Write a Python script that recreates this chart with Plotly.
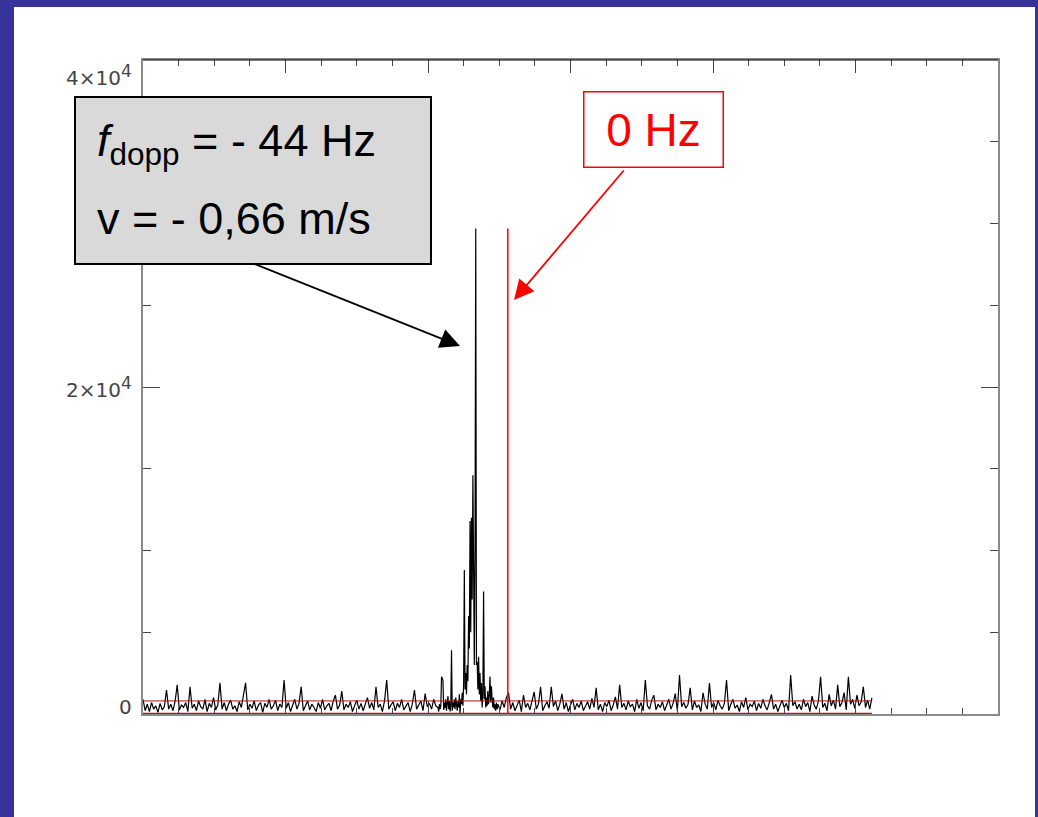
import plotly.graph_objects as go

# Doppler spectrum: FFT bin (Hz) vs. power, zero frequency at bin 512
BIN_STEP = 3
noise_left = [
    900, 200, 600, 150, 700, 300, 500, 100, 650, 250, 450, 1470, 300, 600, 200, 750, 1780, 250, 550, 400,
    700, 150, 1670, 350, 600, 200, 800, 450, 300, 900, 150, 650, 400, 1000, 250, 550, 1900, 300, 700, 200,
    600, 850, 300, 500, 150, 750, 400, 1100, 1900, 250, 600, 350, 800, 200, 550, 700, 100, 650, 400, 900,
    300, 500, 850, 200, 600, 400, 2080, 350, 700, 150, 550, 900, 300, 650, 1670, 200, 500, 800, 250, 600,
    400, 150, 700, 350, 900, 250, 500, 650, 200, 800, 1150, 300, 550, 1400, 250, 600, 400, 750, 150, 500,
    850, 300, 650, 200, 550, 1000, 350, 700, 250, 1670, 400, 600, 150, 800, 2080, 300, 550, 750, 200, 650,
    400, 900, 250, 500, 700, 150, 600, 1470, 300, 550, 800, 200, 1250, 450, 650, 300, 900, 500,
]
noise_left_start = 0

peak_start = 414
peak_vals = [
    400, 150, 600, 300, 500, 2280, 2200, 2050, 250, 700,
    350, 900, 200, 600, 1100, 300, 800, 150, 500, 3900,
    200, 700, 400, 900, 300, 1000, 500, 200, 800, 400,
    1200, 0, 900, 600, 1300, 500, 1800, 8800, 1500, 2500,
    1200, 3000, 2000, 6000, 4000, 11800, 5000, 12000, 7000, 14600,
    9000, 3000, 10000, 29700, 3000, 3200, 1500, 3500, 1200, 2500,
    800, 1900, 400, 1200, 7500, 900, 1700, 400, 1000, 500,
    1400, 600, 1100, 2300, 700, 1700, 900, 400, 1000, 300,
    600, 200, 700, 300,
]

noise_right_start = 498
noise_right = [
    600, 250, 800, 400, 1000, 1300, 300, 700, 200, 550, 850, 150, 1160, 400, 650, 250, 900, 1350, 300, 600,
    1670, 200, 500, 750, 350, 1670, 450, 800, 200, 600, 1230, 300, 700, 150, 550, 900, 250, 650, 400, 800,
    200, 500, 750, 300, 950, 400, 1600, 250, 600, 150, 700, 450, 850, 200, 550, 1050, 300, 1780, 400, 650,
    250, 800, 450, 600, 150, 900, 350, 700, 200, 2080, 500, 300, 850, 1150, 250, 600, 400, 750, 200, 550,
    900, 300, 650, 1250, 200, 2390, 450, 700, 350, 600, 1600, 250, 800, 400, 550, 150, 1300, 600, 300, 1900,
    400, 700, 250, 850, 500, 300, 650, 2080, 200, 600, 900, 350, 550, 150, 750, 400, 1000, 250, 600, 450,
    800, 200, 650, 350, 900, 500, 250, 700, 1200, 300, 600, 150, 550, 850, 400, 650, 200, 2390, 500, 750,
    300, 600, 250, 900, 450, 700, 150, 1100, 550, 300, 800, 2280, 400, 650, 200, 1200, 500, 850, 300, 1780,
    450, 700, 1300, 250, 2280, 600, 900, 350, 1150, 500, 750, 1670, 400, 850, 300, 980,
]

zero_bin = 512
peak_height = 29700
mean_level = 800
n_bins = 1024

y_tick_vals = [0, 20000, 40000]
y_tick_text = ["0",
               "2×10<sup><span style='font-size:17px'>4</span></sup>",
               "4×10<sup><span style='font-size:17px'>4</span></sup>"]

line1 = "<i>f</i><sub>dopp</sub> = - 44 Hz"
line2 = "v = - 0,66 m/s"
zero_label = "0 Hz"

# assemble the spectrum
freq = [noise_left_start + BIN_STEP * i for i in range(len(noise_left))]
power = list(noise_left)
freq += [peak_start + i for i in range(len(peak_vals))]
power += peak_vals
freq += [noise_right_start + BIN_STEP * i for i in range(len(noise_right))]
power += noise_right

W, H = 1038, 817
L, R, T, B = 143, 40, 60, 103
PW, PH = W - L - R, H - T - B


def px(x):
    return (x - L) / PW


def py(y):
    return (H - B - y) / PH


fig = go.Figure()
fig.add_trace(go.Scatter(x=freq, y=power, mode="lines",
                         line=dict(color="black", width=1.2), hoverinfo="skip"))
fig.add_trace(go.Scatter(x=[0, n_bins - 1], y=[mean_level, mean_level], mode="lines",
                         line=dict(color="#a01818", width=1), hoverinfo="skip"))
fig.add_trace(go.Scatter(x=[0, n_bins - 1], y=[0, 0], mode="lines",
                         line=dict(color="#e00000", width=2.5), hoverinfo="skip"))
fig.add_trace(go.Scatter(x=[zero_bin, zero_bin], y=[0, peak_height], mode="lines",
                         line=dict(color="#ff0000", width=1.5), hoverinfo="skip"))

axis_common = dict(showgrid=False, zeroline=False, showline=True, linecolor="#8a8a8a",
                   linewidth=1.5, mirror="ticks", ticks="inside", tickcolor="#444",
                   tickwidth=1.2)
fig.update_xaxes(range=[0, 1200], tick0=0, dtick=200, ticklen=13, showticklabels=False,
                 minor=dict(dtick=50, ticks="inside", ticklen=6, tickcolor="#444"),
                 **axis_common)
fig.update_yaxes(range=[0, 40000], tickvals=y_tick_vals, ticklen=17, showticklabels=False,
                 minor=dict(dtick=5000, ticks="inside", ticklen=8, tickcolor="#444"),
                 **axis_common)

shapes = [
    # white panel inside the blue frame
    dict(type="rect", xref="paper", yref="paper", layer="below",
         x0=px(14), x1=px(1035), y0=py(817), y1=py(7),
         fillcolor="white", line=dict(width=0)),
    # dark top frame line
    dict(type="line", xref="paper", yref="paper", x0=0, x1=1, y0=1, y1=1,
         line=dict(color="black", width=1.2)),
    # grey result box
    dict(type="rect", xref="paper", yref="paper", layer="above",
         x0=px(75), x1=px(431), y0=py(264), y1=py(97),
         fillcolor="#d9d9d9", line=dict(color="black", width=2)),
]

label_font = dict(family="DejaVu Sans", size=20, color="#444")
label_shift = [7, 0, -15]
annotations = []
for v, t, s in zip(y_tick_vals, y_tick_text, label_shift):
    annotations.append(dict(x=0, xref="paper", y=v, yref="y", text=t, showarrow=False,
                            xanchor="right", yanchor="middle", xshift=-9, yshift=s,
                            font=label_font))

box_font = dict(family="Liberation Sans, Arial", size=45, color="black")
annotations += [
    dict(x=px(95), y=py(143), xref="paper", yref="paper", text=line1, showarrow=False,
         xanchor="left", yanchor="middle", font=box_font),
    dict(x=px(95), y=py(218), xref="paper", yref="paper", text=line2, showarrow=False,
         xanchor="left", yanchor="middle", font=box_font),
    dict(x=px(653), y=py(129.5), xref="paper", yref="paper", text=zero_label, showarrow=False,
         xanchor="center", yanchor="middle", width=138, height=74, borderpad=0,
         bgcolor="white", bordercolor="#ff0000", borderwidth=1.5,
         font=dict(family="Liberation Sans, Arial", size=46, color="#ff0000")),
    # arrows
    dict(x=px(460), y=py(346), xref="paper", yref="paper", text="", showarrow=True,
         ax=252 - 460, ay=263 - 346, arrowhead=2, arrowsize=2.2, arrowwidth=1.8,
         arrowcolor="black"),
    dict(x=px(514), y=py(300), xref="paper", yref="paper", text="", showarrow=True,
         ax=625 - 514, ay=169 - 300, arrowhead=2, arrowsize=2.2, arrowwidth=1.8,
         arrowcolor="#ff0000"),
]

fig.update_layout(
    width=W, height=H, margin=dict(l=L, r=R, t=T, b=B),
    paper_bgcolor="#36339a", plot_bgcolor="rgba(0,0,0,0)",
    showlegend=False, shapes=shapes, annotations=annotations,
)

fig.write_html("out.html")
